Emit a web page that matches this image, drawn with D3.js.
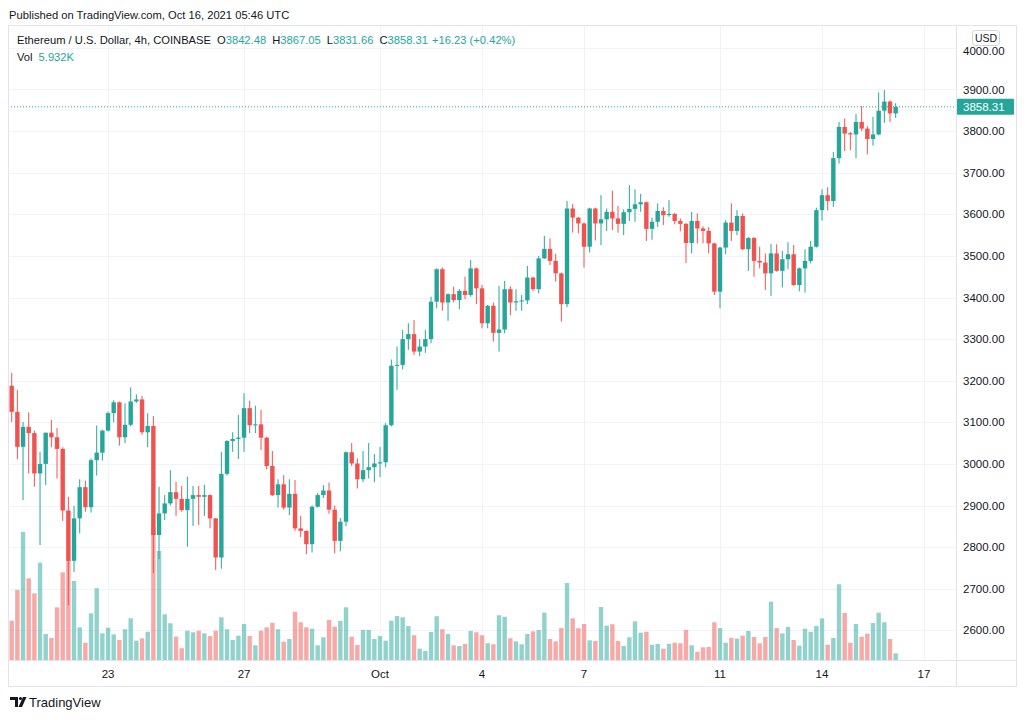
<!DOCTYPE html>
<html><head><meta charset="utf-8">
<script src="https://cdn.jsdelivr.net/npm/d3@7"></script>
<style>body{margin:0;background:#fff;} svg{display:block;font-family:"Liberation Sans",Arial,sans-serif;}</style>
</head><body><svg id="c" width="1026" height="720"></svg>
<script>
// ---- data (4h candles, ETH/USD Coinbase, first candle 2021-09-20 04:00 UTC) ----
const firstCandle = "2021-09-20T04:00:00Z";
const opens = [3188,3125,3041,3089,3074,2977,3000,3075,3064,3036,2888,2767,2869,2944,2896,3009,3027,3080,3122,3148,3064,3094,3150,3155,3076,3091,2829,2881,2905,2932,2916,2889,2916,2925,2921,2925,2869,2775,2976,3055,3060,3063,3134,3093,3095,3063,2995,2925,2951,2895,2928,2845,2839,2807,2897,2925,2936,2890,2815,2861,3028,3001,2963,2985,2992,3001,3004,3093,3236,3238,3300,3312,3270,3282,3300,3390,3468,3388,3408,3394,3416,3406,3470,3422,3338,3380,3315,3323,3420,3388,3391,3393,3448,3420,3494,3517,3488,3458,3384,3614,3592,3578,3522,3614,3578,3588,3606,3590,3577,3605,3613,3624,3629,3565,3582,3608,3598,3601,3584,3577,3531,3584,3566,3560,3530,3414,3520,3580,3560,3596,3516,3543,3488,3484,3458,3506,3464,3492,3504,3430,3470,3488,3522,3610,3646,3632,3735,3810,3795,3792,3822,3806,3781,3792,3849,3871,3842.48];
const highs = [3219,3178,3101,3124,3080,3029,3075,3106,3086,3040,2921,2899,2963,2960,3013,3092,3082,3126,3153,3150,3146,3184,3167,3163,3122,3115,2945,2925,2985,2957,2947,2969,2947,2947,2950,2927,2870,3029,3057,3076,3118,3170,3152,3140,3130,3065,3031,2963,2973,2963,2961,2875,2840,2900,2930,2949,2955,2900,2870,3030,3050,3013,3031,3050,3024,3041,3098,3251,3282,3322,3338,3346,3300,3322,3402,3470,3472,3410,3426,3420,3450,3490,3472,3430,3382,3388,3428,3440,3427,3420,3406,3476,3450,3500,3548,3542,3505,3460,3632,3625,3594,3580,3616,3616,3646,3614,3657,3620,3612,3670,3660,3649,3631,3592,3626,3617,3634,3603,3590,3579,3606,3602,3571,3569,3532,3522,3586,3626,3610,3602,3545,3545,3522,3506,3529,3528,3512,3533,3526,3472,3516,3536,3616,3660,3665,3750,3822,3830,3798,3841,3860,3812,3834,3893,3899,3874,3867.05];
const lows = [3101,3011,2913,2977,2945,2805,2949,3040,2965,2863,2660,2740,2833,2885,2883,2972,3008,3078,3100,3044,3050,3090,3147,3070,3040,2738,2771,2865,2900,2875,2885,2801,2851,2853,2875,2845,2745,2748,2972,3029,3012,3029,3074,3074,3033,2987,2923,2895,2890,2877,2839,2824,2783,2787,2895,2918,2880,2785,2790,2850,2995,2941,2956,2965,2956,2968,2992,3090,3178,3227,3274,3262,3259,3267,3290,3374,3368,3344,3388,3372,3396,3402,3384,3326,3326,3294,3270,3314,3357,3368,3368,3384,3415,3410,3493,3478,3438,3342,3377,3556,3554,3472,3508,3537,3526,3560,3562,3556,3550,3584,3582,3606,3536,3539,3570,3574,3594,3576,3559,3483,3506,3530,3530,3506,3406,3374,3504,3536,3550,3514,3464,3450,3470,3418,3404,3462,3424,3468,3428,3415,3412,3482,3520,3585,3609,3618,3722,3752,3754,3735,3800,3744,3765,3790,3820,3822,3831.66];
const closes = [3125,3041,3089,3074,2977,3000,3075,3064,3036,2888,2767,2869,2944,2896,3009,3027,3080,3122,3148,3064,3094,3150,3155,3076,3091,2829,2881,2905,2932,2916,2889,2916,2925,2921,2925,2869,2775,2976,3055,3060,3063,3134,3093,3095,3063,2995,2925,2951,2895,2928,2845,2839,2807,2897,2925,2936,2890,2815,2861,3028,3001,2963,2985,2992,3001,3004,3093,3236,3238,3300,3312,3270,3282,3300,3390,3468,3388,3408,3394,3416,3406,3470,3422,3338,3380,3315,3323,3420,3388,3391,3393,3448,3420,3494,3517,3488,3458,3384,3614,3592,3578,3522,3614,3578,3588,3606,3590,3577,3605,3613,3624,3629,3565,3582,3608,3598,3601,3584,3577,3531,3584,3566,3560,3530,3414,3520,3580,3560,3596,3516,3543,3488,3484,3458,3506,3464,3492,3504,3430,3470,3488,3522,3610,3646,3632,3735,3810,3794,3792,3822,3806,3781,3792,3849,3871,3842.48,3858.31];
const volumes = [34.8,62.0,113.3,72.3,59.0,86.1,23.0,19.5,46.6,77.6,88.5,69.9,28.9,15.3,41.3,63.5,23.6,28.6,22.7,17.7,27.2,36.9,17.1,19.2,25.0,117.7,96.5,40.4,32.5,20.6,10.4,25.9,24.5,25.9,23.6,21.2,25.9,37.8,27.2,17.7,21.5,31.9,21.2,13.0,25.9,28.9,33.0,27.2,16.2,18.6,42.7,33.4,28.9,27.7,13.0,20.1,35.4,29.5,34.5,46.6,20.6,13.3,26.6,26.6,18.6,21.2,17.1,34.8,38.9,37.8,30.1,21.9,10.0,8.0,24.8,38.7,27.2,23.0,13.0,12.4,14.2,25.7,24.5,21.9,14.8,13.9,39.6,38.3,19.2,16.5,13.9,23.0,25.4,26.6,41.9,18.6,16.5,28.3,68.1,36.9,28.1,31.9,17.4,16.8,46.9,30.4,31.6,16.8,12.4,20.1,34.2,24.2,25.0,13.5,14.2,10.0,14.4,15.3,14.8,26.6,13.0,7.3,11.2,11.5,33.4,28.3,15.3,19.5,18.9,21.5,25.7,20.4,14.8,20.4,51.6,28.3,23.6,29.2,17.7,12.7,27.7,25.0,30.1,36.9,13.5,19.5,67.0,41.6,15.3,31.9,20.6,23.3,32.7,41.9,33.4,18.6,5.932];
const priceTicks = [2600,2700,2800,2900,3000,3100,3200,3300,3400,3500,3600,3700,3800,3900,4000];
const timeTickDates = ["2021-09-23","2021-09-27","2021-10-01","2021-10-04","2021-10-07","2021-10-11","2021-10-14","2021-10-17"];
const timeTickLabels = ["23","27","Oct","4","7","11","14","17"];
const lastPrice = 3858.31;
const changeText = "+16.23 (+0.42%)";

// ---- build ----
const H4 = 4*3600*1000;
const t0 = new Date(firstCandle).getTime();
const candles = opens.map((o,i)=>({t:new Date(t0+i*H4),o,h:highs[i],l:lows[i],c:closes[i],v:volumes[i]}));

const UP="#26a69a", DN="#ef5350", TXT="#131722", GRID="#f0f3fa", BORDER="#e0e3eb";
const svg = d3.select("#c");
const plotL=8, plotR=956, plotT=25, plotB=660, axisB=686, rightB=1016;

const x = d3.scaleUtc().domain([new Date(t0), new Date("2021-10-17T00:00:00Z")]).range([11.7, 924]);
const y = d3.scaleLinear().domain([2600,4000]).range([630.3,47.9]);
const yv = d3.scaleLinear().domain([0,150]).range([plotB, plotB-169.5]);

// grid
svg.append("g").selectAll("line").data(priceTicks).join("line")
  .attr("x1",plotL).attr("x2",plotR).attr("y1",d=>Math.round(y(d))+0.5).attr("y2",d=>Math.round(y(d))+0.5)
  .attr("stroke",GRID).attr("stroke-width",1);
const tDates = timeTickDates.map(s=>new Date(s+"T00:00:00Z"));
svg.append("g").selectAll("line").data(tDates).join("line")
  .attr("x1",d=>Math.round(x(d))+0.5).attr("x2",d=>Math.round(x(d))+0.5).attr("y1",plotT).attr("y2",plotB)
  .attr("stroke",GRID).attr("stroke-width",1);

// volume
const bw = 4.4;
svg.append("g").selectAll("rect").data(candles).join("rect")
  .attr("x",d=>x(d.t)-bw/2).attr("width",bw)
  .attr("y",d=>yv(d.v)).attr("height",d=>plotB-yv(d.v))
  .attr("fill",d=>d.c>=d.o?UP:DN).attr("fill-opacity",0.5);

// candles
const cg = svg.append("g");
cg.selectAll("line").data(candles).join("line")
  .attr("x1",d=>x(d.t)).attr("x2",d=>x(d.t)).attr("y1",d=>y(d.h)).attr("y2",d=>y(d.l))
  .attr("stroke",d=>d.c>=d.o?UP:DN).attr("stroke-width",1);
cg.selectAll("rect").data(candles).join("rect")
  .attr("x",d=>x(d.t)-bw/2).attr("width",bw)
  .attr("y",d=>y(Math.max(d.o,d.c))).attr("height",d=>Math.max(1,Math.abs(y(d.o)-y(d.c))))
  .attr("fill",d=>d.c>=d.o?UP:DN);

// last price line
svg.append("line").attr("x1",plotL).attr("x2",plotR).attr("y1",y(lastPrice)).attr("y2",y(lastPrice))
  .attr("stroke",UP).attr("stroke-width",1).attr("stroke-dasharray","1,2");

// borders
const bd = svg.append("g").attr("stroke",BORDER).attr("stroke-width",1).attr("fill","none");
bd.append("rect").attr("x",plotL+0.5).attr("y",plotT+0.5).attr("width",rightB-plotL).attr("height",axisB-plotT);
bd.append("line").attr("x1",plotR+0.5).attr("x2",plotR+0.5).attr("y1",plotT).attr("y2",axisB);
bd.append("line").attr("x1",plotL).attr("x2",rightB).attr("y1",plotB+0.5).attr("y2",plotB+0.5);

// price axis labels (top one sits under the USD badge, as in the original)
svg.append("g").selectAll("text").data(priceTicks.filter(d=>d<4000)).join("text")
  .attr("x",963).attr("y",d=>y(d)+4).attr("fill",TXT).attr("font-size",11.5)
  .text(d=>d3.format(".2f")(d));
svg.append("text").attr("x",963).attr("y",y(4000)+7).attr("fill",TXT).attr("font-size",11.5)
  .text(d3.format(".2f")(4000));

// last price tag
svg.append("rect").attr("x",957).attr("y",y(lastPrice)-8).attr("width",57).attr("height",16).attr("fill",UP).attr("rx",1);
svg.append("text").attr("x",963).attr("y",y(lastPrice)+4).attr("fill","#fff").attr("font-size",11.5).text(d3.format(".2f")(lastPrice));

// USD badge
svg.append("rect").attr("x",972.5).attr("y",30.5).attr("width",27).attr("height",15).attr("rx",3)
  .attr("fill","#fff").attr("stroke","#d1d4dc");
svg.append("text").attr("x",986).attr("y",42).attr("text-anchor","middle").attr("fill",TXT).attr("font-size",10.5).text("USD");

// time axis labels
svg.append("g").selectAll("text").data(tDates).join("text")
  .attr("x",d=>x(d)).attr("y",678).attr("text-anchor","middle").attr("fill",TXT).attr("font-size",11.5)
  .text((d,i)=>timeTickLabels[i]);

// header
svg.append("text").attr("x",9).attr("y",19).attr("fill",TXT).attr("font-size",11.2)
  .text("Published on TradingView.com, Oct 16, 2021 05:46 UTC");
const h1 = svg.append("text").attr("x",17).attr("y",44).attr("fill",TXT).attr("font-size",11.2);
h1.append("tspan").text("Ethereum / U.S. Dollar, 4h, COINBASE");
const ohlc = [["O",opens[opens.length-1]],["H",highs[highs.length-1]],["L",lows[lows.length-1]],["C",closes[closes.length-1]]];
ohlc.forEach(([k,v])=>{
  h1.append("tspan").attr("dx",6).attr("fill",TXT).text(k);
  h1.append("tspan").attr("fill",UP).text(d3.format(".2f")(v));
});
h1.append("tspan").attr("dx",4).attr("fill",UP).text(changeText);
const h2 = svg.append("text").attr("x",17).attr("y",61).attr("fill",TXT).attr("font-size",11.2);
h2.append("tspan").text("Vol");
h2.append("tspan").attr("dx",6).attr("fill",UP).text(volumes[volumes.length-1].toFixed(3)+"K");

// footer logo
const lg = svg.append("g").attr("transform","translate(10,697)").attr("fill",TXT);
lg.append("path").attr("d","M0,0 H8 V10 H5 V3 H0 Z");
lg.append("circle").attr("cx",10.5).attr("cy",1.5).attr("r",1.6);
lg.append("path").attr("d","M13,0 H16.5 L12,10 H8.5 Z");
svg.append("text").attr("x",29).attr("y",707).attr("fill",TXT).attr("font-size",13).text("TradingView");
</script></body></html>
